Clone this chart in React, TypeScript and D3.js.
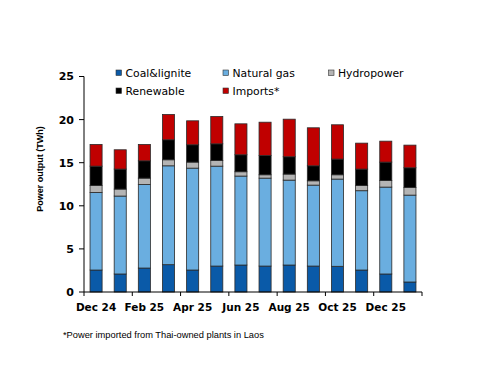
import React from "react";
import * as d3 from "d3";

const months = [
  "Dec 24", "Jan 25", "Feb 25", "Mar 25", "Apr 25", "May 25", "Jun 25",
  "Jul 25", "Aug 25", "Sep 25", "Oct 25", "Nov 25", "Dec 25", "Jan 26",
];

// TWh per month
const coal = [2.55, 2.09, 2.78, 3.17, 2.55, 3.01, 3.13, 3.01, 3.13, 3.01, 2.98, 2.55, 2.09, 1.16];
const gas = [9.0, 9.04, 9.7, 11.47, 11.82, 11.59, 10.32, 10.2, 9.85, 9.39, 10.12, 9.2, 10.08, 10.08];
const hydro = [0.81, 0.81, 0.73, 0.7, 0.7, 0.66, 0.5, 0.39, 0.7, 0.5, 0.5, 0.61, 0.77, 0.89];
const renewable = [2.24, 2.32, 2.01, 2.32, 2.01, 1.93, 1.97, 2.24, 2.01, 1.74, 1.82, 1.9, 2.13, 2.28];
const imports = [2.52, 2.24, 1.9, 2.94, 2.78, 3.17, 3.59, 3.86, 4.36, 4.41, 3.98, 3.01, 2.43, 2.63];

const seriesNames = ["Coal&lignite", "Natural gas", "Hydropower", "Renewable", "Imports*"];
const seriesColors = ["#0a5aa8", "#6aaee0", "#b4b4b4", "#000000", "#c00000"];
const yTicks = [0, 5, 10, 15, 20, 25];

const W = 500;
const H = 386;

export default function App() {
  const x = d3
    .scaleBand<string>()
    .domain(months)
    .range([84, 422])
    .paddingInner(0.5)
    .paddingOuter(0.25);
  const y = d3.scaleLinear().domain([0, 25]).range([292, 76.5]);

  const table = months.map((m, i) => ({
    month: m,
    "Coal&lignite": coal[i],
    "Natural gas": gas[i],
    Hydropower: hydro[i],
    Renewable: renewable[i],
    "Imports*": imports[i],
  }));
  const stacked = d3.stack<any>().keys(seriesNames)(table);

  const step = x.step();
  const xTickPos = d3.range(0, months.length + 1, 2).map((k) => 84 + k * step);

  // legend layout: two rows
  const legendItems = [
    { name: seriesNames[0], color: seriesColors[0], x: 116, y: 73 },
    { name: seriesNames[1], color: seriesColors[1], x: 223, y: 73 },
    { name: seriesNames[2], color: seriesColors[2], x: 328.5, y: 73 },
    { name: seriesNames[3], color: seriesColors[3], x: 116, y: 91 },
    { name: seriesNames[4], color: seriesColors[4], x: 223, y: 91 },
  ];

  return (
    <svg
      width={W}
      height={H}
      style={{ position: "absolute", left: 0, top: 0, background: "#fff" }}
    >
      {/* bars */}
      {stacked.map((layer, si) => (
        <g key={layer.key} fill={seriesColors[si]}>
          {layer.map((d, i) => (
            <rect
              key={i}
              x={x(months[i])}
              y={y(d[1])}
              width={x.bandwidth()}
              height={y(d[0]) - y(d[1])}
              stroke="#2a2a2a"
              strokeWidth={0.8}
            />
          ))}
        </g>
      ))}

      {/* y axis */}
      <line x1={84} x2={84} y1={y(0)} y2={y(25)} stroke="#000" strokeWidth={1} />
      {yTicks.map((t) => (
        <g key={t}>
          <line x1={79} x2={84} y1={y(t)} y2={y(t)} stroke="#000" />
          <text
            x={74}
            y={y(t)}
            dy="0.36em"
            textAnchor="end"
            fontFamily="DejaVu Sans"
            fontWeight="bold"
            fontSize={11}
          >
            {t}
          </text>
        </g>
      ))}

      {/* x axis */}
      <line x1={84} x2={422} y1={y(0)} y2={y(0)} stroke="#000" />
      {xTickPos.map((p, k) => (
        <line key={k} x1={p} x2={p} y1={y(0)} y2={y(0) + 4} stroke="#000" />
      ))}
      {months.map((m, i) =>
        i % 2 === 0 ? (
          <text
            key={m}
            x={(x(m) as number) + x.bandwidth() / 2}
            y={311}
            textAnchor="middle"
            fontFamily="DejaVu Sans"
            fontWeight="bold"
            fontSize={10.5}
          >
            {m}
          </text>
        ) : null
      )}

      {/* y title */}
      <text
        transform="translate(42.5,169) rotate(-90)"
        textAnchor="middle"
        fontFamily="Liberation Sans"
        fontWeight="bold"
        fontSize={9}
      >
        Power output (TWh)
      </text>

      {/* legend */}
      {legendItems.map((it) => (
        <g key={it.name}>
          <rect
            x={it.x}
            y={it.y - 3}
            width={5.5}
            height={5.5}
            fill={it.color}
            stroke="#333"
            strokeWidth={0.6}
          />
          <text
            x={it.x + 9.5}
            y={it.y}
            dy="0.36em"
            fontFamily="DejaVu Sans"
            fontSize={10.8}
          >
            {it.name}
          </text>
        </g>
      ))}

      {/* footnote */}
      <text x={63} y={338} fontFamily="Liberation Sans" fontSize={9.3}>
        *Power imported from Thai-owned plants in Laos
      </text>
    </svg>
  );
}
